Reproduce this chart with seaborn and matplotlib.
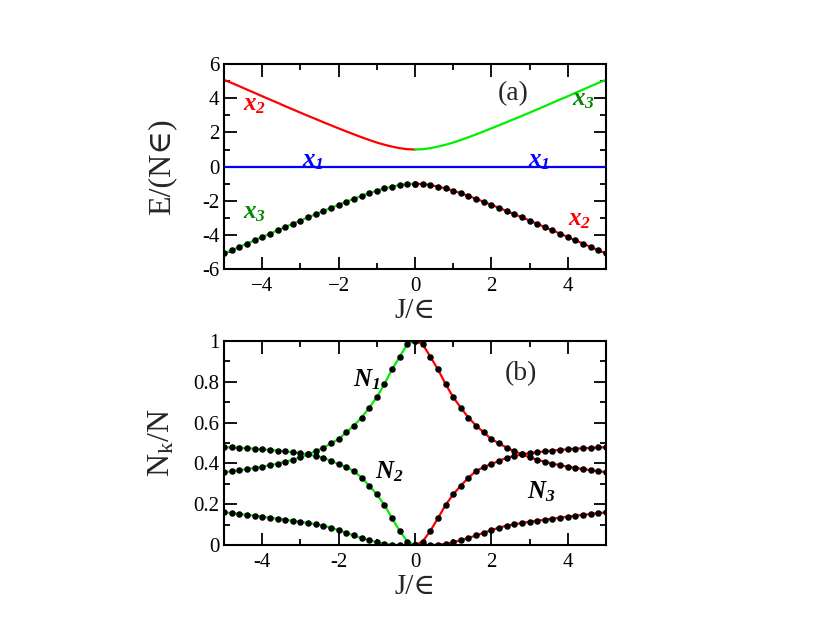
import numpy as np
import pandas as pd
import seaborn as sns
import matplotlib.pyplot as plt
from matplotlib.ticker import MultipleLocator

# J/eps grid (left half and right half, 0.2 steps)
j_left = [-5.0, -4.8, -4.6, -4.4, -4.2, -4.0, -3.8, -3.6, -3.4, -3.2, -3.0, -2.8, -2.6,
          -2.4, -2.2, -2.0, -1.8, -1.6, -1.4, -1.2, -1.0, -0.8, -0.6, -0.4, -0.2, 0.0]
j_right = [0.0, 0.2, 0.4, 0.6, 0.8, 1.0, 1.2, 1.4, 1.6, 1.8, 2.0, 2.2, 2.4,
           2.6, 2.8, 3.0, 3.2, 3.4, 3.6, 3.8, 4.0, 4.2, 4.4, 4.6, 4.8, 5.0]

# (a) energies E/(N eps)
e_up_left = [5.08, 4.90, 4.71, 4.51, 4.32, 4.12, 3.93, 3.74, 3.54, 3.35, 3.16, 2.97, 2.79,
             2.60, 2.42, 2.24, 2.06, 1.89, 1.72, 1.56, 1.41, 1.28, 1.17, 1.08, 1.02, 1.00]
e_up_right = [1.00, 1.02, 1.08, 1.17, 1.28, 1.41, 1.56, 1.72, 1.89, 2.06, 2.24, 2.42, 2.60,
              2.79, 2.97, 3.16, 3.35, 3.54, 3.74, 3.93, 4.12, 4.32, 4.51, 4.71, 4.90, 5.08]
e_low_left = [-5.08, -4.90, -4.71, -4.51, -4.32, -4.12, -3.93, -3.74, -3.54, -3.35, -3.16, -2.97, -2.79,
              -2.60, -2.42, -2.24, -2.06, -1.89, -1.72, -1.56, -1.41, -1.28, -1.17, -1.08, -1.02, -1.00]
e_low_right = [-1.00, -1.02, -1.08, -1.17, -1.28, -1.41, -1.56, -1.72, -1.89, -2.06, -2.24, -2.42, -2.60,
               -2.79, -2.97, -3.16, -3.35, -3.54, -3.74, -3.93, -4.12, -4.32, -4.51, -4.71, -4.90, -5.08]
e_mid = [0.0, 0.0]
j_mid = [-5.0, 5.0]

# (b) populations N_k/N
n1_left = [0.357, 0.362, 0.367, 0.372, 0.378, 0.384, 0.391, 0.399, 0.408, 0.418, 0.430, 0.444, 0.460,
           0.477, 0.498, 0.519, 0.552, 0.585, 0.624, 0.673, 0.724, 0.789, 0.861, 0.923, 0.984, 1.000]
n2_left = [0.479, 0.478, 0.476, 0.474, 0.472, 0.469, 0.466, 0.463, 0.459, 0.455, 0.450, 0.444, 0.436,
           0.428, 0.412, 0.397, 0.382, 0.363, 0.330, 0.291, 0.248, 0.196, 0.131, 0.069, 0.017, 0.000]
n3_left = [0.160, 0.156, 0.152, 0.148, 0.144, 0.139, 0.134, 0.129, 0.124, 0.119, 0.114, 0.108, 0.102,
           0.095, 0.085, 0.073, 0.060, 0.047, 0.035, 0.024, 0.014, 0.006, 0.002, 0.000, 0.000, 0.000]
n1_right = [1.000, 0.984, 0.923, 0.861, 0.789, 0.724, 0.673, 0.624, 0.585, 0.552, 0.519, 0.498, 0.477,
            0.460, 0.444, 0.430, 0.418, 0.408, 0.399, 0.391, 0.384, 0.378, 0.372, 0.367, 0.362, 0.357]
n3_right = [0.000, 0.017, 0.069, 0.131, 0.196, 0.248, 0.291, 0.330, 0.363, 0.382, 0.397, 0.412, 0.428,
            0.436, 0.444, 0.450, 0.455, 0.459, 0.463, 0.466, 0.469, 0.472, 0.474, 0.476, 0.478, 0.479]
n2_right = [0.000, 0.000, 0.000, 0.002, 0.006, 0.014, 0.024, 0.035, 0.047, 0.060, 0.073, 0.085, 0.095,
            0.102, 0.108, 0.114, 0.119, 0.124, 0.129, 0.134, 0.139, 0.144, 0.148, 0.152, 0.156, 0.160]

RED, GREEN, BLUE = '#ff0000', '#00ee00', '#0000ff'
DKGREEN = '#008800'

sns.set_style('ticks')
plt.rcParams['font.family'] = ['Liberation Serif', 'DejaVu Serif', 'DejaVu Sans']
# math text is only used for the italic curve labels (x_1, N_2 ...)
plt.rcParams['mathtext.fontset'] = 'custom'
plt.rcParams['mathtext.rm'] = 'Liberation Serif:italic:bold'
plt.rcParams['mathtext.it'] = 'Liberation Serif:italic:bold'
plt.rcParams['mathtext.bf'] = 'Liberation Serif:italic:bold'

fig = plt.figure(figsize=(8.3, 6.42), dpi=100)
ax1 = fig.add_axes([0.270, 0.581, 0.460, 0.319])
ax2 = fig.add_axes([0.270, 0.151, 0.460, 0.318])


def curve(ax, x, y, color, dots=True):
    df = pd.DataFrame({'J': x, 'v': y})
    sns.lineplot(data=df, x='J', y='v', color=color, lw=1.6, estimator=None, sort=False, ax=ax)
    if dots:
        sns.scatterplot(data=df, x='J', y='v', color='black', s=22, linewidth=0, zorder=3, ax=ax)


# ---- (a)
curve(ax1, j_left, e_up_left, RED, dots=False)
curve(ax1, j_right, e_up_right, GREEN, dots=False)
curve(ax1, j_mid, e_mid, BLUE, dots=False)
curve(ax1, j_left, e_low_left, GREEN)
curve(ax1, j_right, e_low_right, RED)

ax1.set_xlim(-5, 5)
ax1.set_ylim(-6, 6)
ax1.set_xticks([-4, -2, 0, 2, 4])
ax1.set_yticks([-6, -4, -2, 0, 2, 4, 6], ['-6', '-4', '-2', '0', '2', '4', '6'])
ax1.xaxis.set_minor_locator(MultipleLocator(1))
ax1.yaxis.set_minor_locator(MultipleLocator(1))
ax1.set_xlabel('J/∈', fontsize=21)
ax1.set_ylabel('E/(N∈)', fontsize=23)
ax1.xaxis.set_label_coords(0.5, -0.14)
ax1.yaxis.set_label_coords(-0.125, 0.5)

lab = dict(fontsize=18, ha='left', va='center')
ax1.text(-4.5, 3.6, r'$x_2$', color=RED, **lab)
ax1.text(4.1, 3.9, r'$x_3$', color=DKGREEN, **lab)
ax1.text(-2.95, 0.35, r'$x_1$', color=BLUE, **lab)
ax1.text(2.95, 0.35, r'$x_1$', color=BLUE, **lab)
ax1.text(-4.5, -2.7, r'$x_3$', color=DKGREEN, **lab)
ax1.text(4.0, -3.1, r'$x_2$', color=RED, **lab)
ax1.text(2.57, 4.25, '(a)', fontsize=20, ha='center', va='center')

# ---- (b)
for y in (n1_left, n2_left, n3_left):
    curve(ax2, j_left, y, GREEN)
for y in (n1_right, n3_right, n2_right):
    curve(ax2, j_right, y, RED)

ax2.set_xlim(-5, 5)
ax2.set_ylim(0, 1)
ax2.set_xticks([-4, -2, 0, 2, 4], ['-4', '-2', '0', '2', '4'])
ax2.set_yticks([0, 0.2, 0.4, 0.6, 0.8, 1.0], ['0', '0.2', '0.4', '0.6', '0.8', '1'])
ax2.xaxis.set_minor_locator(MultipleLocator(1))
ax2.yaxis.set_minor_locator(MultipleLocator(0.1))
ax2.set_xlabel('J/∈', fontsize=21)
ax2.set_ylabel(r'N$_\mathregular{k}$/N', fontsize=23)
ax2.xaxis.set_label_coords(0.5, -0.14)
ax2.yaxis.set_label_coords(-0.125, 0.5)

ax2.text(-1.62, 0.81, r'$N_1$', color='black', **lab)
ax2.text(-1.05, 0.36, r'$N_2$', color='black', **lab)
ax2.text(2.93, 0.26, r'$N_3$', color='black', **lab)
ax2.text(2.77, 0.84, '(b)', fontsize=20, ha='center', va='center')

for ax in (ax1, ax2):
    for sp in ax.spines.values():
        sp.set_linewidth(1.5)
        sp.set_color('black')
    ax.tick_params(which='both', direction='in', top=True, right=True, width=1.3,
                   labelsize=15, colors='black')
    ax.tick_params(which='major', length=9)
    ax.tick_params(which='minor', length=4.5)
    ax.tick_params(axis='x', which='major', pad=6)

fig.savefig('out.png', dpi=100)
